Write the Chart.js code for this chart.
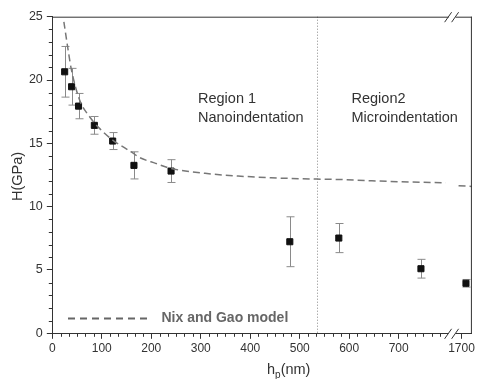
<!DOCTYPE html>
<html>
<head>
<meta charset="utf-8">
<script src="https://cdn.jsdelivr.net/npm/chart.js@4/dist/chart.umd.min.js"></script>
<style>
  html, body { margin: 0; padding: 0; background: #fff; }
  #wrap { width: 478px; height: 379px; position: relative; }
</style>
</head>
<body>
<div id="wrap"><canvas id="c"></canvas></div>
<script>
// Measured hardness vs. indentation depth
const hn = [25, 39, 53, 85, 122, 165, 240, 480, 579, 745, 1709];
const hardness = [20.65, 19.47, 17.94, 16.42, 15.18, 13.26, 12.81, 7.23, 7.52, 5.1, 3.95];
const hardnessErr = [2.0, 1.45, 1.0, 0.7, 0.67, 1.07, 0.9, 1.97, 1.15, 0.74, 0.3];

// Nix and Gao model curve
const modelHn = [23.4, 32, 38.8, 55.4, 75.4, 95.4, 122, 162, 175.4, 208.8, 240, 308.8, 375.4, 442, 534, 575, 640, 700, 795];
const modelH  = [24.6, 22.36, 20.78, 18.4, 17.1, 16.18, 15.26, 14.26, 13.9, 13.42, 13.02, 12.63, 12.42, 12.28, 12.18, 12.15, 12.05, 11.97, 11.89];
const modelHnHigh = [1694, 1721];
const modelHHigh  = [11.65, 11.6];

// Axis ticks
const xTickValues = [0, 100, 200, 300, 400, 500, 600, 700, 1700];
const yTickValues = [0, 5, 10, 15, 20, 25];

// Region boundary (nm)
const regionBoundary = 534;

// Broken x axis: depths past the break are shifted left onto the axis
const BREAK_AT = 807;
function toAxis(nm) { return nm <= BREAK_AT ? nm : 827 + (nm - 1700); }

const FONT = "'Liberation Sans', Arial, sans-serif";
const INK = '#333';

const extras = {
  id: 'extras',
  beforeDatasetsDraw(chart) {
    const ctx = chart.ctx, xs = chart.scales.x, ys = chart.scales.y;
    const a = chart.chartArea;
    ctx.save();
    // region boundary
    ctx.strokeStyle = '#888'; ctx.lineWidth = 1; ctx.setLineDash([1, 2]);
    const bx = Math.round(xs.getPixelForValue(regionBoundary)) + 0.5;
    ctx.beginPath(); ctx.moveTo(bx, a.top); ctx.lineTo(bx, a.bottom); ctx.stroke();
    ctx.setLineDash([]);
    // error bars
    ctx.strokeStyle = '#8a8a8a'; ctx.lineWidth = 1;
    hn.forEach((h, i) => {
      const px = Math.round(xs.getPixelForValue(toAxis(h))) + 0.5;
      const top = ys.getPixelForValue(hardness[i] + hardnessErr[i]);
      const bot = ys.getPixelForValue(hardness[i] - hardnessErr[i]);
      ctx.beginPath();
      ctx.moveTo(px, top); ctx.lineTo(px, bot);
      ctx.moveTo(px - 4, top); ctx.lineTo(px + 4, top);
      ctx.moveTo(px - 4, bot); ctx.lineTo(px + 4, bot);
      ctx.stroke();
    });
    ctx.restore();
  },
  afterDraw(chart) {
    const ctx = chart.ctx, xs = chart.scales.x, ys = chart.scales.y;
    const a = chart.chartArea;
    ctx.save();
    ctx.strokeStyle = INK; ctx.lineWidth = 1;
    // top and right frame
    ctx.beginPath();
    ctx.moveTo(a.left, a.top + 0.5); ctx.lineTo(a.right, a.top + 0.5);
    ctx.moveTo(a.right - 0.5, a.top); ctx.lineTo(a.right - 0.5, a.bottom);
    ctx.stroke();
    // minor ticks
    ctx.beginPath();
    for (let v = 0; v < 795; v += 100 / 6) {
      if (Math.abs(v / 100 - Math.round(v / 100)) < 1e-6) continue;
      const px = Math.round(xs.getPixelForValue(v)) + 0.5;
      ctx.moveTo(px, a.bottom); ctx.lineTo(px, a.bottom + 3.5);
    }
    for (let v = 1; v < 25; v++) {
      if (v % 5 === 0) continue;
      const py = Math.round(ys.getPixelForValue(v)) + 0.5;
      ctx.moveTo(a.left, py); ctx.lineTo(a.left - 3.5, py);
    }
    ctx.stroke();
    // axis break marks
    const bpx = xs.getPixelForValue(BREAK_AT);
    [a.top + 0.5, a.bottom + 0.5].forEach(y => {
      ctx.fillStyle = '#fff';
      ctx.fillRect(bpx - 3, y - 1.5, 7, 3);
      ctx.beginPath();
      ctx.moveTo(bpx - 7, y + 5); ctx.lineTo(bpx, y - 5);
      ctx.moveTo(bpx, y + 5); ctx.lineTo(bpx + 7, y - 5);
      ctx.stroke();
    });
    // region labels
    ctx.fillStyle = INK; ctx.font = '14.5px ' + FONT;
    ctx.textBaseline = 'middle'; ctx.textAlign = 'left';
    ctx.fillText('Region 1', 198, 99);
    ctx.fillText('Nanoindentation', 198, 117.5);
    ctx.fillText('Region2', 351.5, 99);
    ctx.fillText('Microindentation', 351.5, 117.5);
    // legend
    ctx.strokeStyle = '#666'; ctx.lineWidth = 2; ctx.setLineDash([7, 5]);
    ctx.beginPath(); ctx.moveTo(68, 318.5); ctx.lineTo(152, 318.5); ctx.stroke();
    ctx.setLineDash([]);
    ctx.fillStyle = '#666'; ctx.font = 'bold 14px ' + FONT;
    ctx.fillText('Nix and Gao model', 161.5, 318);
    // axis titles
    ctx.fillStyle = INK; ctx.font = '14.5px ' + FONT;
    ctx.textBaseline = 'alphabetic';
    ctx.fillText('h', 267, 373.5);
    const hw = ctx.measureText('h').width;
    ctx.font = '10px ' + FONT;
    ctx.fillText('p', 267 + hw, 377.5);
    const pw = ctx.measureText('p').width;
    ctx.font = '14.5px ' + FONT;
    ctx.fillText('(nm)', 267 + hw + pw, 373.5);
    ctx.translate(17.5, 176.5); ctx.rotate(-Math.PI / 2);
    ctx.textAlign = 'center'; ctx.textBaseline = 'middle';
    ctx.fillText('H(GPa)', 0, 0);
    ctx.restore();
  }
};

new Chart(document.getElementById('c'), {
  type: 'scatter',
  data: {
    datasets: [
      {
        type: 'line',
        data: modelHn.map((h, i) => ({ x: toAxis(h), y: modelH[i] })),
        borderColor: '#777', borderWidth: 1.5, borderDash: [7, 4],
        pointRadius: 0, cubicInterpolationMode: 'monotone', fill: false
      },
      {
        type: 'line',
        data: modelHnHigh.map((h, i) => ({ x: toAxis(h), y: modelHHigh[i] })),
        borderColor: '#777', borderWidth: 1.5, borderDash: [7, 4],
        pointRadius: 0, fill: false
      },
      {
        data: hn.map((h, i) => ({ x: toAxis(h), y: hardness[i] })),
        pointStyle: 'rect', pointRadius: 4.3, pointHoverRadius: 4.3,
        backgroundColor: '#111', borderColor: '#111', borderWidth: 1
      }
    ]
  },
  options: {
    responsive: true, maintainAspectRatio: false, animation: false,
    devicePixelRatio: 1,
    layout: { padding: { top: 16.7, right: 1.5, left: 0, bottom: 0 } },
    plugins: { legend: { display: false }, tooltip: { enabled: false } },
    scales: {
      x: {
        type: 'linear', min: 0, max: 848,
        afterBuildTicks: s => { s.ticks = xTickValues.map(v => ({ value: toAxis(v) })); },
        afterFit: s => { s.height = 45.7; },
        ticks: {
          autoSkip: false, maxRotation: 0, padding: 3, color: INK,
          font: { family: FONT, size: 12 },
          callback: (v, i) => String(xTickValues[i])
        },
        grid: { drawOnChartArea: false, tickLength: 5.5, tickColor: INK },
        border: { color: INK, width: 1 }
      },
      y: {
        min: 0, max: 25,
        afterBuildTicks: s => { s.ticks = yTickValues.map(v => ({ value: v })); },
        afterFit: s => { s.width = 52.3; },
        ticks: { padding: 4, color: INK, font: { family: FONT, size: 12.5 } },
        grid: { drawOnChartArea: false, tickLength: 5.5, tickColor: INK },
        border: { color: INK, width: 1 }
      }
    }
  },
  plugins: [extras]
});
</script>
</body>
</html>
